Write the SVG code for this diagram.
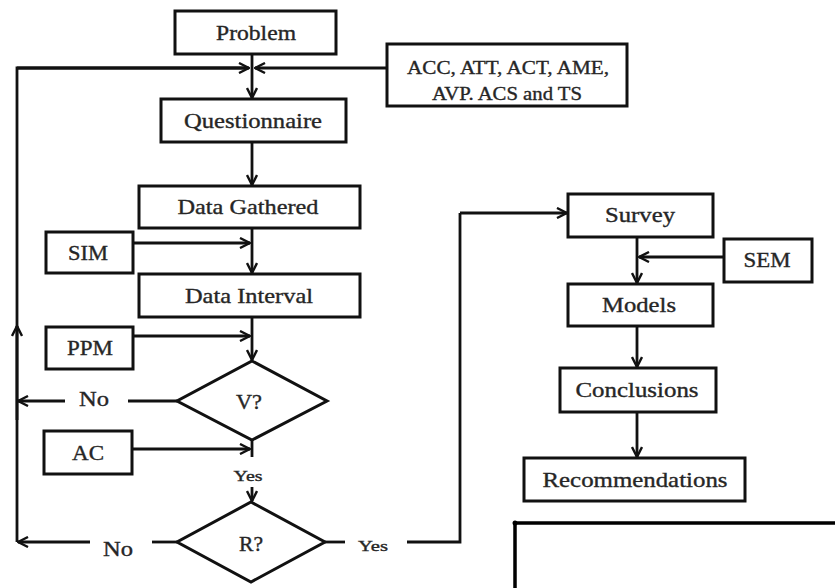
<svg xmlns="http://www.w3.org/2000/svg" width="835" height="588" viewBox="0 0 835 588">
<style>
.box{fill:#fff;stroke:#111;stroke-width:3}
.ln{fill:none;stroke:#111;stroke-width:2.8}
.ar{fill:none;stroke:#111;stroke-width:2.8;marker-end:url(#arr)}
text{fill:#262626;stroke:#262626;stroke-width:0.35;text-anchor:middle}
.t{font-size:21px}
.s{font-size:15px}
.m{font-size:19px}
</style>
<defs>
<marker id="arr" viewBox="0 0 12 12" markerWidth="12" markerHeight="12" refX="11" refY="6" orient="auto" markerUnits="userSpaceOnUse">
<path d="M1,1 L11,6 L1,11" fill="none" stroke="#111" stroke-width="2.4"/>
</marker>
</defs>
<rect width="835" height="588" fill="#fff"/>
<g id="connectors">
<path class="ar" d="M252,54 V98"/>
<path class="ln" d="M17,542 V68 H248"/>
<path class="ar" d="M17,420 V326"/>
<path class="ar" d="M17,68 H249"/>
<path class="ar" d="M387,68 H255"/>
<path class="ar" d="M252,142 V185"/>
<path class="ar" d="M252,228 V273"/>
<path class="ar" d="M133,243 H250"/>
<path class="ar" d="M252,317 V360"/>
<path class="ar" d="M133,336 H250"/>
<path class="ln" d="M177,401 H128"/>
<path class="ar" d="M65,401 H18"/>
<path class="ln" d="M252,440 V457"/>
<path class="ar" d="M132,449 H250"/>
<path class="ar" d="M252,487 V501"/>
<path class="ln" d="M177,542 H152"/>
<path class="ar" d="M90,542 H18"/>
<path class="ln" d="M325,542 H345"/>
<path class="ln" d="M407,542 H460 V213"/>
<path class="ar" d="M460,213 H567"/>
<path class="ar" d="M637,237 V283"/>
<path class="ar" d="M724,257 H639"/>
<path class="ar" d="M637,326 V367"/>
<path class="ar" d="M637,412 V457"/>
<path fill="none" stroke="#000" stroke-width="3.5" d="M514,523 H835 M515,523 V588"/>
<circle cx="515" cy="523" r="2.5" fill="#000"/>
</g>
<g font-family="'Liberation Serif', 'DejaVu Serif', serif">
<g id="problem"><rect class="box" x="175" y="11" width="161" height="43"/><text class="t" x="256" y="40" textLength="80" lengthAdjust="spacingAndGlyphs">Problem</text></g>
<g id="acc"><rect class="box" x="387" y="44" width="240" height="62"/>
<text class="m" x="508" y="74" textLength="202" lengthAdjust="spacingAndGlyphs">ACC, ATT, ACT, AME,</text>
<text class="m" x="507" y="100" textLength="150" lengthAdjust="spacingAndGlyphs">AVP. ACS and TS</text></g>
<g id="questionnaire"><rect class="box" x="161" y="99" width="185" height="43"/><text class="t" x="253" y="128" textLength="138" lengthAdjust="spacingAndGlyphs">Questionnaire</text></g>
<g id="data-gathered"><rect class="box" x="139" y="186" width="221" height="42"/><text class="t" x="248" y="214" textLength="141" lengthAdjust="spacingAndGlyphs">Data Gathered</text></g>
<g id="sim"><rect class="box" x="46" y="232" width="87" height="41"/><text class="t" x="88" y="260" textLength="40" lengthAdjust="spacingAndGlyphs">SIM</text></g>
<g id="data-interval"><rect class="box" x="139" y="274" width="221" height="43"/><text class="t" x="249" y="303" textLength="128" lengthAdjust="spacingAndGlyphs">Data Interval</text></g>
<g id="ppm"><rect class="box" x="46" y="327" width="87" height="42"/><text class="t" x="90" y="355" textLength="46" lengthAdjust="spacingAndGlyphs">PPM</text></g>
<g id="v"><polygon class="box" points="252,361 327,401 252,440 177,401"/><text class="t" x="249" y="409" textLength="26" lengthAdjust="spacingAndGlyphs">V?</text></g>
<g id="no1"><text class="t" x="94" y="406" textLength="30" lengthAdjust="spacingAndGlyphs">No</text></g>
<g id="ac"><rect class="box" x="44" y="431" width="88" height="43"/><text class="t" x="88" y="460" textLength="32" lengthAdjust="spacingAndGlyphs">AC</text></g>
<g id="yes1"><text class="s" x="248" y="481" textLength="29" lengthAdjust="spacingAndGlyphs">Yes</text></g>
<g id="r"><polygon class="box" points="251,502 325,542 251,582 177,542"/><text class="t" x="251" y="551" textLength="24" lengthAdjust="spacingAndGlyphs">R?</text></g>
<g id="no2"><text class="t" x="118" y="556" textLength="30" lengthAdjust="spacingAndGlyphs">No</text></g>
<g id="yes2"><text class="s" x="373" y="551" textLength="30" lengthAdjust="spacingAndGlyphs">Yes</text></g>
<g id="survey"><rect class="box" x="568" y="194" width="145" height="43"/><text class="t" x="640" y="222" textLength="70" lengthAdjust="spacingAndGlyphs">Survey</text></g>
<g id="sem"><rect class="box" x="724" y="239" width="88" height="43"/><text class="t" x="767" y="267" textLength="47" lengthAdjust="spacingAndGlyphs">SEM</text></g>
<g id="models"><rect class="box" x="568" y="284" width="145" height="42"/><text class="t" x="639" y="312" textLength="74" lengthAdjust="spacingAndGlyphs">Models</text></g>
<g id="conclusions"><rect class="box" x="560" y="368" width="156" height="44"/><text class="t" x="637" y="397" textLength="123" lengthAdjust="spacingAndGlyphs">Conclusions</text></g>
<g id="recommendations"><rect class="box" x="524" y="458" width="221" height="43"/><text class="t" x="635" y="487" textLength="185" lengthAdjust="spacingAndGlyphs">Recommendations</text></g>
</g>
</svg>
